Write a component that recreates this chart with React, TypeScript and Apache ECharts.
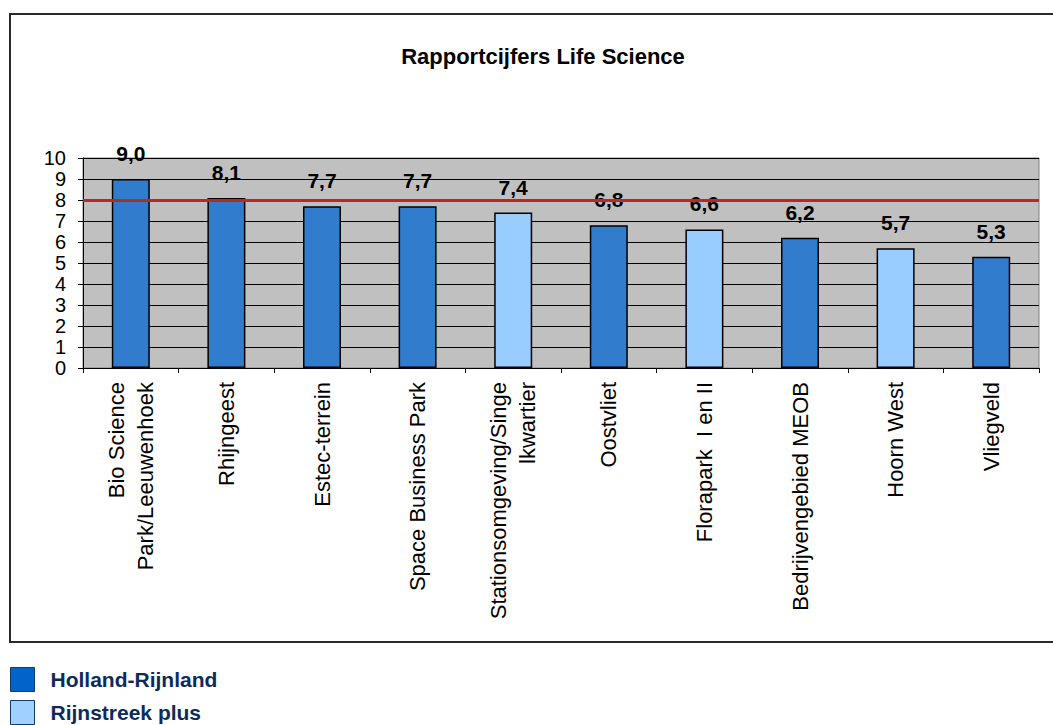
import React, { useEffect, useRef } from "react";
import * as echarts from "echarts";

const title = "Rapportcijfers Life Science";
const categories = [
  "Bio Science\nPark/Leeuwenhoek",
  "Rhijngeest",
  "Estec-terrein",
  "Space Business Park",
  "Stationsomgeving/Singe\nlkwartier",
  "Oostvliet",
  "Florapark  I en II",
  "Bedrijvengebied MEOB",
  "Hoorn West",
  "Vliegveld",
];
const values = [9.0, 8.1, 7.7, 7.7, 7.4, 6.8, 6.6, 6.2, 5.7, 5.3];
const groups = [0, 0, 0, 0, 1, 0, 1, 0, 1, 0];
const groupNames = ["Holland-Rijnland", "Rijnstreek plus"];
const groupColors = ["#317ccc", "#99ccff"];
const legendColors = ["#0064c8", "#a0d0ff"];
const targetLine = 8;
const yTicks = { min: 0, max: 10, interval: 1 };

const FONT = "'Liberation Sans', Arial, sans-serif";

export default function App() {
  const ref = useRef<HTMLDivElement>(null);
  useEffect(() => {
    if (!ref.current) return;
    const chart = echarts.init(ref.current, null, { renderer: "svg" });
    const series = groupNames.map((name, gi) => ({
      name,
      type: "bar",
      barWidth: 38,
      barGap: "-100%",
      data: values.map((v, i) => (groups[i] === gi ? v : "-")),
      itemStyle: { color: groupColors[gi], borderColor: "#000", borderWidth: 1.5 },
      label: {
        show: true,
        position: "top",
        distance: 15,
        fontSize: 21,
        fontWeight: "bold",
        color: "#000",
        fontFamily: FONT,
        formatter: (p: any) => Number(p.value).toFixed(1).replace(".", ","),
      },
      markLine:
        gi === 0
          ? {
              silent: true,
              symbol: ["none", "none"],
              label: { show: false },
              lineStyle: { color: "#b02c2c", width: 3, type: "solid" },
              data: [{ yAxis: targetLine }],
            }
          : undefined,
      z: 3,
    }));
    const legendStyle = (i: number, top: number) => ({
      orient: "vertical",
      left: 10,
      top,
      padding: 0,
      itemWidth: 24,
      itemHeight: 24,
      icon: "rect",
      textStyle: {
        fontSize: 21,
        fontWeight: "bold",
        color: "#0d2a5c",
        fontFamily: FONT,
        padding: [0, 0, 0, 11],
      },
      data: [
        {
          name: groupNames[i],
          itemStyle: { color: legendColors[i], borderColor: "#123a6a", borderWidth: 1 },
        },
      ],
    });
    chart.setOption({
      animation: false,
      textStyle: { fontFamily: FONT },
      title: {
        text: title,
        left: 538,
        textAlign: "center",
        top: 40,
        textStyle: { fontSize: 22, fontWeight: "bold", color: "#000", fontFamily: FONT },
      },
      legend: [legendStyle(0, 667), legendStyle(1, 700)],
      graphic: [
        {
          type: "rect",
          shape: { x: 10, y: 14, width: 1060, height: 628 },
          style: { fill: "none", stroke: "#2a2a2a", lineWidth: 2 },
          z: -1,
        },
      ],
      grid: {
        left: 83,
        right: 14,
        top: 158,
        bottom: 357,
        show: true,
        backgroundColor: "#c0c0c0",
        borderColor: "#808080",
        borderWidth: 1,
      },
      xAxis: {
        type: "category",
        data: categories,
        axisLine: { lineStyle: { color: "#000", width: 1 } },
        axisTick: { show: true, alignWithLabel: false, length: 5, lineStyle: { color: "#000" } },
        axisLabel: {
          rotate: 90,
          interval: 0,
          margin: 14,
          fontSize: 22,
          lineHeight: 29,
          color: "#000",
          fontFamily: FONT,
        },
      },
      yAxis: {
        type: "value",
        min: yTicks.min,
        max: yTicks.max,
        interval: yTicks.interval,
        axisLine: { show: true, lineStyle: { color: "#000", width: 1 } },
        axisTick: { show: true, length: 5, lineStyle: { color: "#000" } },
        axisLabel: { fontSize: 20, color: "#000", margin: 17, fontFamily: FONT },
        splitLine: { show: true, lineStyle: { color: "#000", width: 1 } },
      },
      series,
    });
    return () => chart.dispose();
  }, []);
  return (
    <div
      ref={ref}
      style={{ position: "fixed", left: 0, top: 0, width: 1053, height: 725, background: "#fff" }}
    />
  );
}
